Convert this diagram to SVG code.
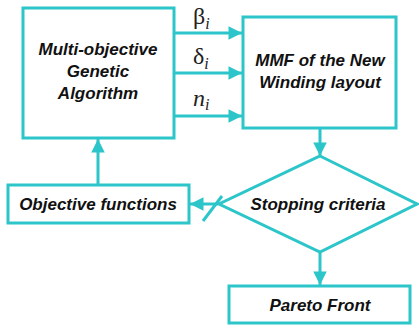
<svg xmlns="http://www.w3.org/2000/svg" width="419" height="330" viewBox="0 0 419 330">
<style>
.b{fill:#fff;stroke:#2cc5c9;stroke-width:3}
.c{fill:none;stroke:#2cc5c9;stroke-width:3}
.t{font-family:"Liberation Sans",Arial,sans-serif;font-weight:bold;font-style:italic;font-size:17px;fill:#111;text-anchor:middle}
.g{font-family:"Liberation Serif","Times New Roman",serif;font-size:24px;fill:#222}
.s{font-family:"Liberation Serif","Times New Roman",serif;font-style:italic;font-size:16px;fill:#222}
.n{font-family:"Liberation Serif","Times New Roman",serif;font-style:italic;font-size:24px;fill:#222}
</style>
<defs>
<marker id="a" viewBox="0 0 10 10" refX="10" refY="5" markerWidth="5" markerHeight="4.5" markerUnits="strokeWidth" orient="auto">
<path d="M0,0L10,5L0,10z" fill="#2cc5c9"/>
</marker>
</defs>
<g id="connectors">
<line class="c" x1="174" y1="33" x2="242" y2="33" marker-end="url(#a)"/>
<line class="c" x1="174" y1="73" x2="242" y2="73" marker-end="url(#a)"/>
<line class="c" x1="174" y1="116" x2="242" y2="116" marker-end="url(#a)"/>
<line class="c" x1="320" y1="129" x2="320" y2="156" marker-end="url(#a)"/>
<line class="c" x1="218" y1="204" x2="190" y2="204" marker-end="url(#a)"/>
<line class="c" x1="203" y1="221" x2="222" y2="196" stroke-width="2"/>
<line class="c" x1="98" y1="184" x2="98" y2="139" marker-end="url(#a)"/>
<line class="c" x1="320" y1="252" x2="320" y2="285" marker-end="url(#a)"/>
<text class="g" x="193" y="24">β<tspan class="s" dy="5">i</tspan></text>
<text class="g" x="193" y="64">δ<tspan class="s" dy="5">i</tspan></text>
<text class="n" x="193" y="106">n<tspan class="s" dy="4">i</tspan></text>
</g>
<g id="mga">
<rect class="b" x="23" y="8" width="151" height="130"/>
<text class="t" x="98" y="55">Multi-objective</text>
<text class="t" x="98" y="77">Genetic</text>
<text class="t" x="98" y="99">Algorithm</text>
</g>
<g id="mmf">
<rect class="b" x="243" y="17" width="153" height="111"/>
<text class="t" x="320" y="66">MMF of the New</text>
<text class="t" x="320" y="88">Winding layout</text>
</g>
<g id="stop">
<polygon class="b" points="320,156 417,204 320,252 219,204"/>
<text class="t" x="318" y="210">Stopping criteria</text>
</g>
<g id="obj">
<rect class="b" x="8" y="185" width="181" height="38"/>
<text class="t" x="98" y="210">Objective functions</text>
</g>
<g id="pareto">
<rect class="b" x="229" y="286" width="181" height="37"/>
<text class="t" x="320" y="311">Pareto Front</text>
</g>
</svg>
